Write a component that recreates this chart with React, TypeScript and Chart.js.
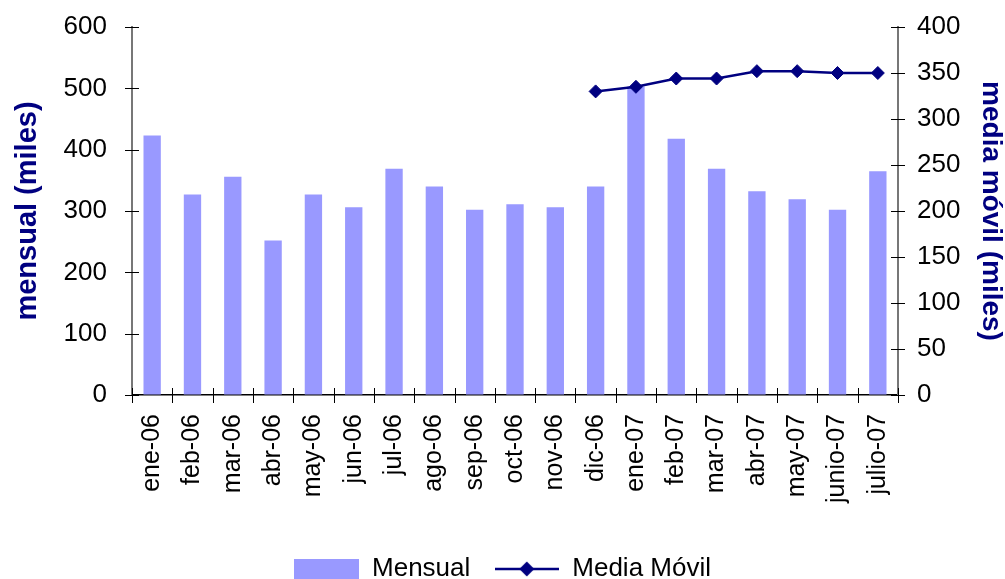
import React, { useEffect, useRef } from "react";
import { Chart, registerables } from "chart.js";

Chart.register(...registerables);

const categories = [
  "ene-06", "feb-06", "mar-06", "abr-06", "may-06", "jun-06", "jul-06", "ago-06", "sep-06", "oct-06",
  "nov-06", "dic-06", "ene-07", "feb-07", "mar-07", "abr-07", "may-07", "junio-07", "julio-07",
];
const mensual = [423, 327, 356, 252, 327, 306, 369, 340, 302, 311, 306, 340, 503, 418, 369, 332, 319, 302, 365];
const mediaMovil = [null, null, null, null, null, null, null, null, null, null, null, 330, 335, 344, 344, 352, 352, 350, 350];
const leftTicks = [0, 100, 200, 300, 400, 500, 600];
const rightTicks = [0, 50, 100, 150, 200, 250, 300, 350, 400];

const BAR_COLOR = "#9999FF";
const NAVY = "#000080";
const FONT = "'Liberation Sans', Arial, sans-serif";

const crossTicks = {
  id: "crossTicks",
  afterDatasetsDraw(chart: any) {
    const { ctx, chartArea, scales } = chart;
    ctx.save();
    ctx.strokeStyle = "#000";
    ctx.lineWidth = 1;
    const y = scales.y;
    const y1 = scales.y1;
    const x = scales.x;
    y.ticks.forEach((t: any) => {
      const py = Math.round(y.getPixelForValue(t.value)) + 0.5;
      ctx.beginPath();
      ctx.moveTo(chartArea.left - 7, py);
      ctx.lineTo(chartArea.left + 7, py);
      ctx.stroke();
    });
    y1.ticks.forEach((t: any) => {
      const py = Math.round(y1.getPixelForValue(t.value)) + 0.5;
      ctx.beginPath();
      ctx.moveTo(chartArea.right - 7, py);
      ctx.lineTo(chartArea.right + 7, py);
      ctx.stroke();
    });
    const n = x.ticks.length;
    const w = (chartArea.right - chartArea.left) / n;
    for (let i = 0; i <= n; i++) {
      const px = Math.round(chartArea.left + i * w) + 0.5;
      ctx.beginPath();
      ctx.moveTo(px, chartArea.bottom - 7);
      ctx.lineTo(px, chartArea.bottom + 8);
      ctx.stroke();
    }
    ctx.restore();
  },
};

const legendShift = {
  id: "legendShift",
  afterLayout(chart: any) {
    const lg = chart.legend;
    if (lg) {
      lg.top += 13;
      lg.bottom += 13;
    }
  },
};

export default function App() {
  const ref = useRef<HTMLCanvasElement>(null);

  useEffect(() => {
    if (!ref.current) return;

    const barIcon = document.createElement("canvas");
    barIcon.width = 65;
    barIcon.height = 21;
    const bctx = barIcon.getContext("2d")!;
    bctx.fillStyle = BAR_COLOR;
    bctx.fillRect(0, 0, 65, 21);

    const lineIcon = document.createElement("canvas");
    lineIcon.width = 64;
    lineIcon.height = 16;
    const lctx = lineIcon.getContext("2d")!;
    lctx.strokeStyle = NAVY;
    lctx.lineWidth = 2.5;
    lctx.beginPath();
    lctx.moveTo(0, 8);
    lctx.lineTo(64, 8);
    lctx.stroke();
    lctx.fillStyle = NAVY;
    lctx.beginPath();
    lctx.moveTo(32 - 7.5, 8);
    lctx.lineTo(32, 0.5);
    lctx.lineTo(32 + 7.5, 8);
    lctx.lineTo(32, 15.5);
    lctx.closePath();
    lctx.fill();

    const chart = new Chart(ref.current, {
      data: {
        labels: categories,
        datasets: [
          {
            type: "bar" as const,
            label: "Mensual",
            data: mensual,
            backgroundColor: BAR_COLOR,
            borderWidth: 0,
            barPercentage: 0.43,
            categoryPercentage: 1,
            yAxisID: "y",
            order: 1,
          },
          {
            type: "line" as const,
            label: "Media Móvil",
            data: mediaMovil as any,
            borderColor: NAVY,
            backgroundColor: NAVY,
            borderWidth: 2.5,
            pointStyle: "rectRot",
            pointRadius: 6.5,
            pointBorderWidth: 1,
            pointBackgroundColor: NAVY,
            pointBorderColor: NAVY,
            tension: 0,
            yAxisID: "y1",
            order: 0,
          },
        ],
      },
      options: {
        responsive: false,
        animation: false,
        layout: { padding: { top: 27, left: 0, right: 0, bottom: 0 } },
        scales: {
          x: {
            offset: true,
            grid: { display: true, drawOnChartArea: false, drawTicks: false, offset: true },
            border: { display: true, color: "#000", width: 1.5 },
            ticks: {
              autoSkip: false,
              maxRotation: 90,
              minRotation: 90,
              padding: 19,
              color: "#000",
              font: { family: FONT, size: 25 },
            },
            afterFit: (scale: any) => {
              scale.height = 124;
            },
          },
          y: {
            position: "left",
            min: 0,
            max: 600,
            afterBuildTicks: (scale: any) => {
              scale.ticks = leftTicks.map((v) => ({ value: v }));
            },
            grid: { display: true, drawOnChartArea: false, drawTicks: true, tickLength: 20, tickColor: "rgba(0,0,0,0)" },
            border: { display: true, color: "#777", width: 2 },
            ticks: { padding: 5, color: "#000", font: { family: FONT, size: 26 } },
            title: {
              display: true,
              text: "mensual (miles)",
              color: NAVY,
              padding: { top: 13, bottom: 0 },
              font: { family: FONT, size: 29, weight: "bold", lineHeight: 1 },
            },
            afterFit: (scale: any) => {
              scale.width = 132;
            },
          },
          y1: {
            position: "right",
            min: 0,
            max: 400,
            afterBuildTicks: (scale: any) => {
              scale.ticks = rightTicks.map((v) => ({ value: v }));
            },
            grid: { display: true, drawOnChartArea: false, drawTicks: true, tickLength: 14, tickColor: "rgba(0,0,0,0)" },
            border: { display: true, color: "#777", width: 2 },
            ticks: { padding: 5, color: "#000", font: { family: FONT, size: 26 } },
            title: {
              display: true,
              text: "media móvil (miles)",
              color: NAVY,
              padding: { top: 0, bottom: 0 },
              font: { family: FONT, size: 28, weight: "bold", lineHeight: 1 },
            },
            afterFit: (scale: any) => {
              scale.width = 107;
            },
          },
        },
        plugins: {
          tooltip: { enabled: false },
          legend: {
            display: true,
            position: "bottom",
            labels: {
              usePointStyle: true,
              pointStyleWidth: 65,
              boxHeight: 26,
              padding: 24,
              color: "#000",
              font: { family: FONT, size: 26 },
              generateLabels: () => [
                {
                  text: "Mensual",
                  fillStyle: BAR_COLOR,
                  strokeStyle: BAR_COLOR,
                  lineWidth: 0,
                  pointStyle: barIcon as any,
                  hidden: false,
                  datasetIndex: 0,
                  fontColor: "#000",
                },
                {
                  text: "Media Móvil",
                  fillStyle: NAVY,
                  strokeStyle: NAVY,
                  lineWidth: 0,
                  pointStyle: lineIcon as any,
                  hidden: false,
                  datasetIndex: 1,
                  fontColor: "#000",
                },
              ],
            },
          },
        },
      } as any,
      plugins: [crossTicks, legendShift],
    });
    return () => chart.destroy();
  }, []);

  return (
    <div style={{ position: "absolute", left: 0, top: 0, width: 1005, height: 579, background: "#fff" }}>
      <canvas ref={ref} width={1005} height={579} style={{ display: "block" }} />
    </div>
  );
}
